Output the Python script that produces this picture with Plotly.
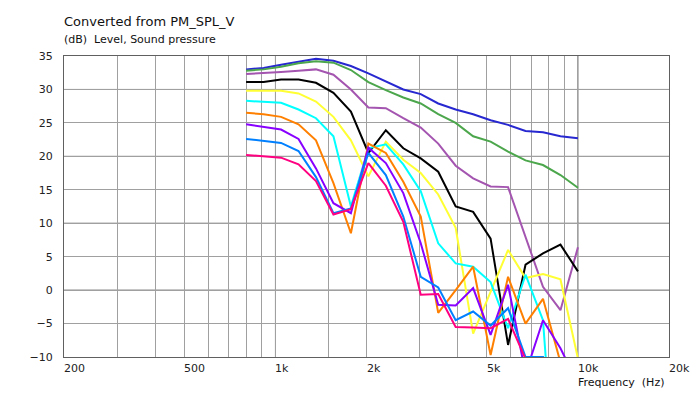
import math
import plotly.graph_objects as go

# Frequencies (Hz) of the measured points (20 log-spaced points, 800 Hz .. 10 kHz)
FREQ = [800, 913.7, 1043.6, 1192.0, 1361.4, 1555.0, 1776.1, 2028.6, 2317.0, 2646.4,
        3022.6, 3452.3, 3943.1, 4503.6, 5143.9, 5875.2, 6710.4, 7664.4, 8754.0, 10000]

BLUE = [33.0, 33.2, 33.7, 34.2, 34.6, 34.3, 33.5, 32.4, 31.2, 30.0,
        29.3, 27.9, 27.0, 26.3, 25.4, 24.7, 23.8, 23.6, 23.0, 22.7]
GREEN = [32.8, 33.0, 33.4, 33.9, 34.2, 34.0, 32.9, 31.1, 29.9, 28.8,
         27.9, 26.3, 25.0, 23.0, 22.2, 20.7, 19.4, 18.7, 17.2, 15.3]
MAUVE = [32.3, 32.4, 32.6, 32.8, 33.0, 32.2, 30.0, 27.3, 27.2, 25.7,
         24.3, 21.9, 18.6, 16.7, 15.5, 15.4, 7.8, 0.5, -3.0, 6.4]
BLACK = [31.1, 31.1, 31.5, 31.5, 31.0, 29.5, 26.7, 20.5, 23.9, 21.2,
         19.7, 17.7, 12.5, 11.7, 7.7, -8.2, 3.8, 5.5, 6.8, 2.8]
YELLOW = [29.8, 29.8, 29.8, 29.4, 28.2, 25.9, 22.4, 17.0, 22.2, 19.5,
          17.5, 14.3, 9.3, -6.5, -0.3, 6.0, 1.8, 2.4, 1.6, -10.2]
CYAN = [28.3, 28.2, 28.0, 27.0, 25.7, 23.0, 12.5, 21.2, 21.8, 18.8,
        14.8, 7.0, 4.0, 3.5, 1.2, -5.7, 2.3, -4.5, -40, -40]
ORANGE = [26.5, 26.3, 25.9, 24.8, 22.4, 16.0, 8.5, 21.9, 20.5, 16.2,
          11.0, -3.4, 0.0, 3.5, -9.7, 2.0, -5.0, -1.3, -10.8, -30]
PURPLE = [24.8, 24.4, 24.0, 22.6, 18.2, 13.0, 11.5, 21.3, 19.0, 14.5,
          7.0, -2.2, -2.3, 0.3, -6.7, 0.8, -12.5, -4.5, -8.7, -14]
AZURE = [22.6, 22.3, 22.0, 20.8, 16.9, 11.5, 12.2, 20.5, 17.2, 11.0,
         2.0, 0.4, -4.5, -3.2, -5.3, -2.7, -10, -10, -40, -40]
PINK = [20.2, 20.0, 19.8, 18.8, 16.3, 11.3, 12.1, 19.0, 15.6, 10.2,
        -0.7, -0.6, -5.5, -5.6, -5.7, -4.3, -10.3, -40, -40, -40]

SERIES = [
    ("1", BLUE, "#2828D0"),
    ("2", GREEN, "#4CA64C"),
    ("3", MAUVE, "#A455B0"),
    ("4", BLACK, "#000000"),
    ("5", YELLOW, "#FFFF33"),
    ("6", CYAN, "#00FFFF"),
    ("7", ORANGE, "#FF8000"),
    ("8", PURPLE, "#8800FF"),
    ("9", AZURE, "#0080FF"),
    ("10", PINK, "#FF0080"),
]

X_TICKS = [200, 500, 1000, 2000, 5000, 10000, 20000]
X_TICK_TEXT = ["200", "500", "1k", "2k", "5k", "10k", "20k"]
X_MINOR = [300, 400, 600, 700, 800, 900, 1500, 3000, 4000, 6000, 7000, 8000, 9000]
X_DARK = [1000, 10000]
Y_TICKS = [-10, -5, 0, 5, 10, 15, 20, 25, 30, 35]
Y_DARK = [0, 10, 20, 30]

FONT = "DejaVu Sans"
TXT = "#222222"

fig = go.Figure()
for name, vals, col in SERIES:
    fig.add_trace(go.Scatter(x=FREQ, y=vals, mode="lines", name=name,
                             line=dict(color=col, width=2), showlegend=False,
                             hoverinfo="skip"))

shapes = []
for v in X_DARK:
    shapes.append(dict(type="line", xref="x", yref="paper", x0=v, x1=v, y0=0, y1=1,
                       line=dict(color="#6E6E6E", width=1), layer="below"))
for v in Y_DARK:
    shapes.append(dict(type="line", xref="paper", yref="y", x0=0, x1=1, y0=v, y1=v,
                       line=dict(color="#6E6E6E", width=1), layer="below"))

annotations = [
    dict(text="Converted from PM_SPL_V", xref="paper", yref="paper", x=0, y=1,
         xanchor="left", yanchor="middle", yshift=35, xshift=-2, showarrow=False,
         font=dict(family=FONT, size=13, color="#111111")),
    dict(text="(dB)  Level, Sound pressure", xref="paper", yref="paper", x=0, y=1,
         xanchor="left", yanchor="middle", yshift=17, xshift=-2, showarrow=False,
         font=dict(family=FONT, size=11, color="#111111")),
    dict(text="Frequency  (Hz)", xref="x", yref="paper", x=math.log10(10000), y=0,
         xanchor="left", yanchor="middle", yshift=-25, xshift=-2, showarrow=False,
         font=dict(family=FONT, size=11, color="#111111")),
]
# x tick labels, left-aligned at their tick as in the reference
for v, t in zip(X_TICKS, X_TICK_TEXT):
    annotations.append(dict(text=t, xref="x", yref="paper", x=math.log10(v), y=0,
                            xanchor="left", yanchor="middle", yshift=-11, xshift=-2,
                            showarrow=False, font=dict(family=FONT, size=11, color=TXT)))

fig.update_layout(
    width=692, height=393, autosize=False,
    margin=dict(l=64, r=23, t=56, b=36),
    paper_bgcolor="white", plot_bgcolor="white",
    font=dict(family=FONT, size=11, color=TXT),
    shapes=shapes,
    annotations=annotations,
    xaxis=dict(
        type="log", range=[math.log10(200), math.log10(20000)],
        tickvals=X_TICKS, showticklabels=False, ticks="",
        showgrid=True, gridcolor="#A0A0A0", gridwidth=1,
        minor=dict(tickvals=X_MINOR, showgrid=True, gridcolor="#A0A0A0", gridwidth=1, ticks=""),
        showline=True, mirror=True, linecolor="#606060", linewidth=1,
        zeroline=False, automargin=False,
    ),
    yaxis=dict(
        range=[-10, 35], tickvals=Y_TICKS, ticks="",
        showgrid=True, gridcolor="#A0A0A0", gridwidth=1,
        showline=True, mirror=True, linecolor="#606060", linewidth=1,
        zeroline=False, ticklabelstandoff=8, automargin=False,
        tickfont=dict(family=FONT, size=11, color=TXT),
    ),
)

fig.write_html(
    "out.html",
    config={"displayModeBar": False, "responsive": False},
    post_script=("document.documentElement.style.overflow='hidden';"
                 "document.body.style.overflow='hidden';"
                 "document.body.style.margin='0';document.body.style.padding='0';"),
)
